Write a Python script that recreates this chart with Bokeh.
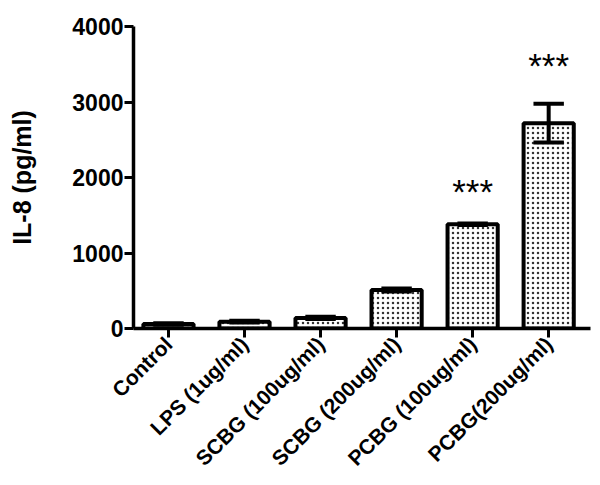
import math
from bokeh.plotting import figure
from bokeh.models import FixedTicker, Range1d, ColumnDataSource
from bokeh.core.properties import value
from bokeh.embed import file_html
from bokeh.resources import INLINE

categories = ["Control", "LPS (1ug/ml)", "SCBG (100ug/ml)", "SCBG (200ug/ml)",
              "PCBG (100ug/ml)", "PCBG(200ug/ml)"]
means = [60, 90, 140, 510, 1380, 2720]
errors = [10, 12, 15, 20, 10, 258]
sig_labels = ["", "", "", "", "***", "***"]
sig_y = [0, 0, 0, 0, 1815, 3483]
y_ticks = [0, 1000, 2000, 3000, 4000]

xs = list(range(len(categories)))
FONT = "Liberation Sans"

p = figure(width=600, height=485, output_backend="svg", toolbar_location=None,
           x_range=Range1d(-0.46, 5.55), y_range=Range1d(0, 4000),
           min_border_left=133, min_border_right=10, min_border_top=26,
           min_border_bottom=157)
p.outline_line_color = None
p.grid.visible = False

src = ColumnDataSource(dict(x=xs, top=means,
                            err_lo=[m - e for m, e in zip(means, errors)],
                            err_hi=[m + e for m, e in zip(means, errors)],
                            cap_l=[x - 0.2 for x in xs], cap_r=[x + 0.2 for x in xs]))
p.vbar(x="x", top="top", width=0.66, source=src, fill_color="white",
       line_color="black", line_width=4, hatch_pattern="dot", hatch_color="#333333",
       hatch_scale=5, hatch_weight=1)
p.segment(x0="x", y0="err_lo", x1="x", y1="err_hi", source=src, line_color="black", line_width=4)
p.segment(x0="cap_l", y0="err_hi", x1="cap_r", y1="err_hi", source=src, line_color="black", line_width=4)
p.segment(x0="cap_l", y0="err_lo", x1="cap_r", y1="err_lo", source=src, line_color="black", line_width=4)

sig_src = ColumnDataSource(dict(x=[x for x, s in zip(xs, sig_labels) if s],
                                y=[y for y, s in zip(sig_y, sig_labels) if s],
                                t=[s for s in sig_labels if s]))
p.text(x="x", y="y", text="t", source=sig_src, text_align="center", text_baseline="middle",
       text_font=value(FONT), text_font_size="35px", text_color="black")

for ax in (p.xaxis[0], p.yaxis[0]):
    ax.axis_line_width = 3.5
    ax.major_tick_line_width = 3
    ax.major_tick_out = 9
    ax.major_tick_in = 0
    ax.minor_tick_line_color = None
    ax.major_label_text_font = FONT
    ax.major_label_text_font_style = "bold"
    ax.major_label_text_color = "black"

p.yaxis.ticker = FixedTicker(ticks=y_ticks)
p.yaxis.major_label_text_font_size = "23px"
p.yaxis.major_label_standoff = 1
p.yaxis.axis_label = "IL-8 (pg/ml)"
p.yaxis.axis_label_text_font = FONT
p.yaxis.axis_label_text_font_style = "bold"
p.yaxis.axis_label_text_font_size = "25px"
p.yaxis.axis_label_text_color = "black"
p.yaxis.axis_label_standoff = 33

p.xaxis.ticker = FixedTicker(ticks=xs)
p.xaxis.major_label_overrides = {i: c for i, c in enumerate(categories)}
p.xaxis.major_label_orientation = math.pi / 4
p.xaxis.major_label_text_font_size = "21px"
p.xaxis.major_label_standoff = 3

open("out.html", "w").write(file_html(p, INLINE))
